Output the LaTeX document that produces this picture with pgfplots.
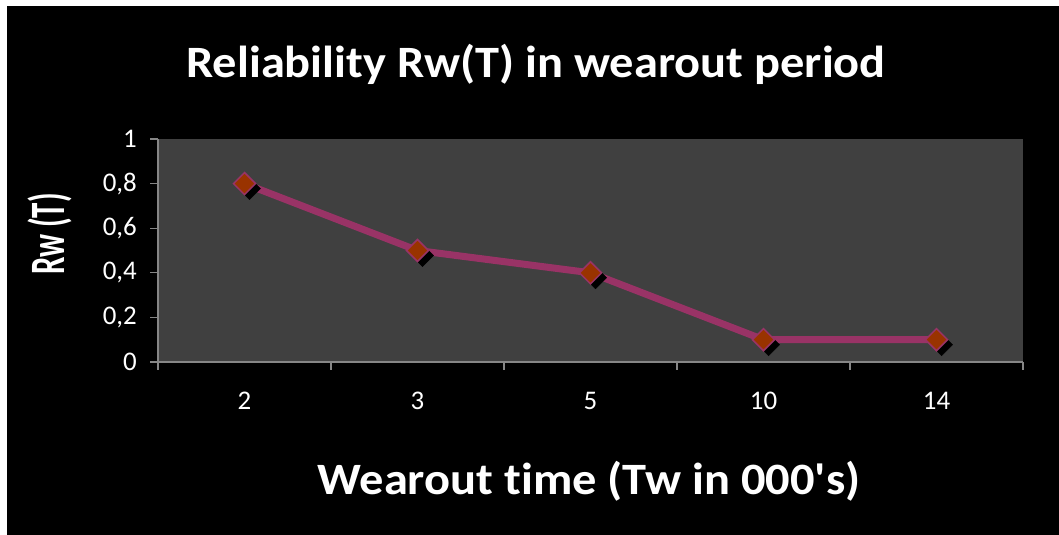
\documentclass[border=0pt]{standalone}
\usepackage{pgfplots}
\pgfplotsset{compat=1.18}
\usepackage{fontspec}
\setmainfont{Carlito}[Ligatures={TeX,NoCommon}]

\definecolor{plotbg}{RGB}{64,64,64}
\definecolor{axisgray}{RGB}{134,134,134}
\definecolor{plum}{RGB}{153,51,102}
\definecolor{rust}{RGB}{153,51,0}

\begin{document}
\begin{tikzpicture}[x=1bp,y=1bp]
  % page: thin white strip left and top, black chart area
  \fill[white] (0,0) rectangle (1059,535);
  \fill[black] (7,0) rectangle (1059,529);

  \begin{axis}[
      at={(158bp,173bp)}, anchor=south west,
      scale only axis,
      width=865bp, height=223bp,
      axis background/.style={fill=plotbg},
      axis lines=left,
      axis line style={-, draw=axisgray, line width=1.2bp},
      clip=false,
      xmin=-0.5, xmax=4.5,
      ymin=0, ymax=1,
      xtick={0,...,4},
      xticklabels={2,3,5,10,14},
      minor xtick={-0.5,0.5,1.5,2.5,3.5,4.5},
      major x tick style={draw=none},
      minor x tick style={draw=axisgray, line width=1.2bp},
      minor tick length=8bp,
      ytick={0,0.2,0.4,0.6,0.8,1},
      yticklabels={0,{0,2},{0,4},{0,6},{0,8},1},
      y tick style={draw=axisgray, line width=1.2bp},
      major tick length=8bp,
      tick align=outside,
      tick pos=left,
      tick label style={font=\fontsize{27}{32}\selectfont, text=white},
      yticklabel style={inner sep=0pt, anchor=east, xshift=-13bp},
      xticklabel style={inner sep=0pt, anchor=north, yshift=-22bp},
    ]
    % marker shadows
    \addplot[only marks, mark=square*, mark size=7.8bp,
      mark options={xshift=5bp, yshift=-5bp, rotate=45, fill=black, draw=black}]
      coordinates {(0,0.8) (1,0.5) (2,0.4) (3,0.1) (4,0.1)};
    % series
    \addplot[plum, line width=7bp, mark=square*, mark size=7.8bp,
      mark options={rotate=45, fill=rust, draw=plum, line width=1.5bp, solid}]
      coordinates {(0,0.8) (1,0.5) (2,0.4) (3,0.1) (4,0.1)};
  \end{axis}

  % title and axis titles
  \node[anchor=base, text=white, xscale=1.08, font=\fontsize{45}{54}\selectfont\bfseries]
    at (536,457) {Reliability Rw(T) in wearout period};
  \node[anchor=base, text=white, xscale=1.08, font=\fontsize{45}{54}\selectfont\bfseries]
    at (589,40) {Wearout time (Tw in 000\textquotesingle s)};
  \node[anchor=base, xscale=1.6, rotate=90, text=white, font=\fontsize{31}{38}\selectfont\bfseries]
    at (64,301) {Rw (T)};
\end{tikzpicture}
\end{document}
